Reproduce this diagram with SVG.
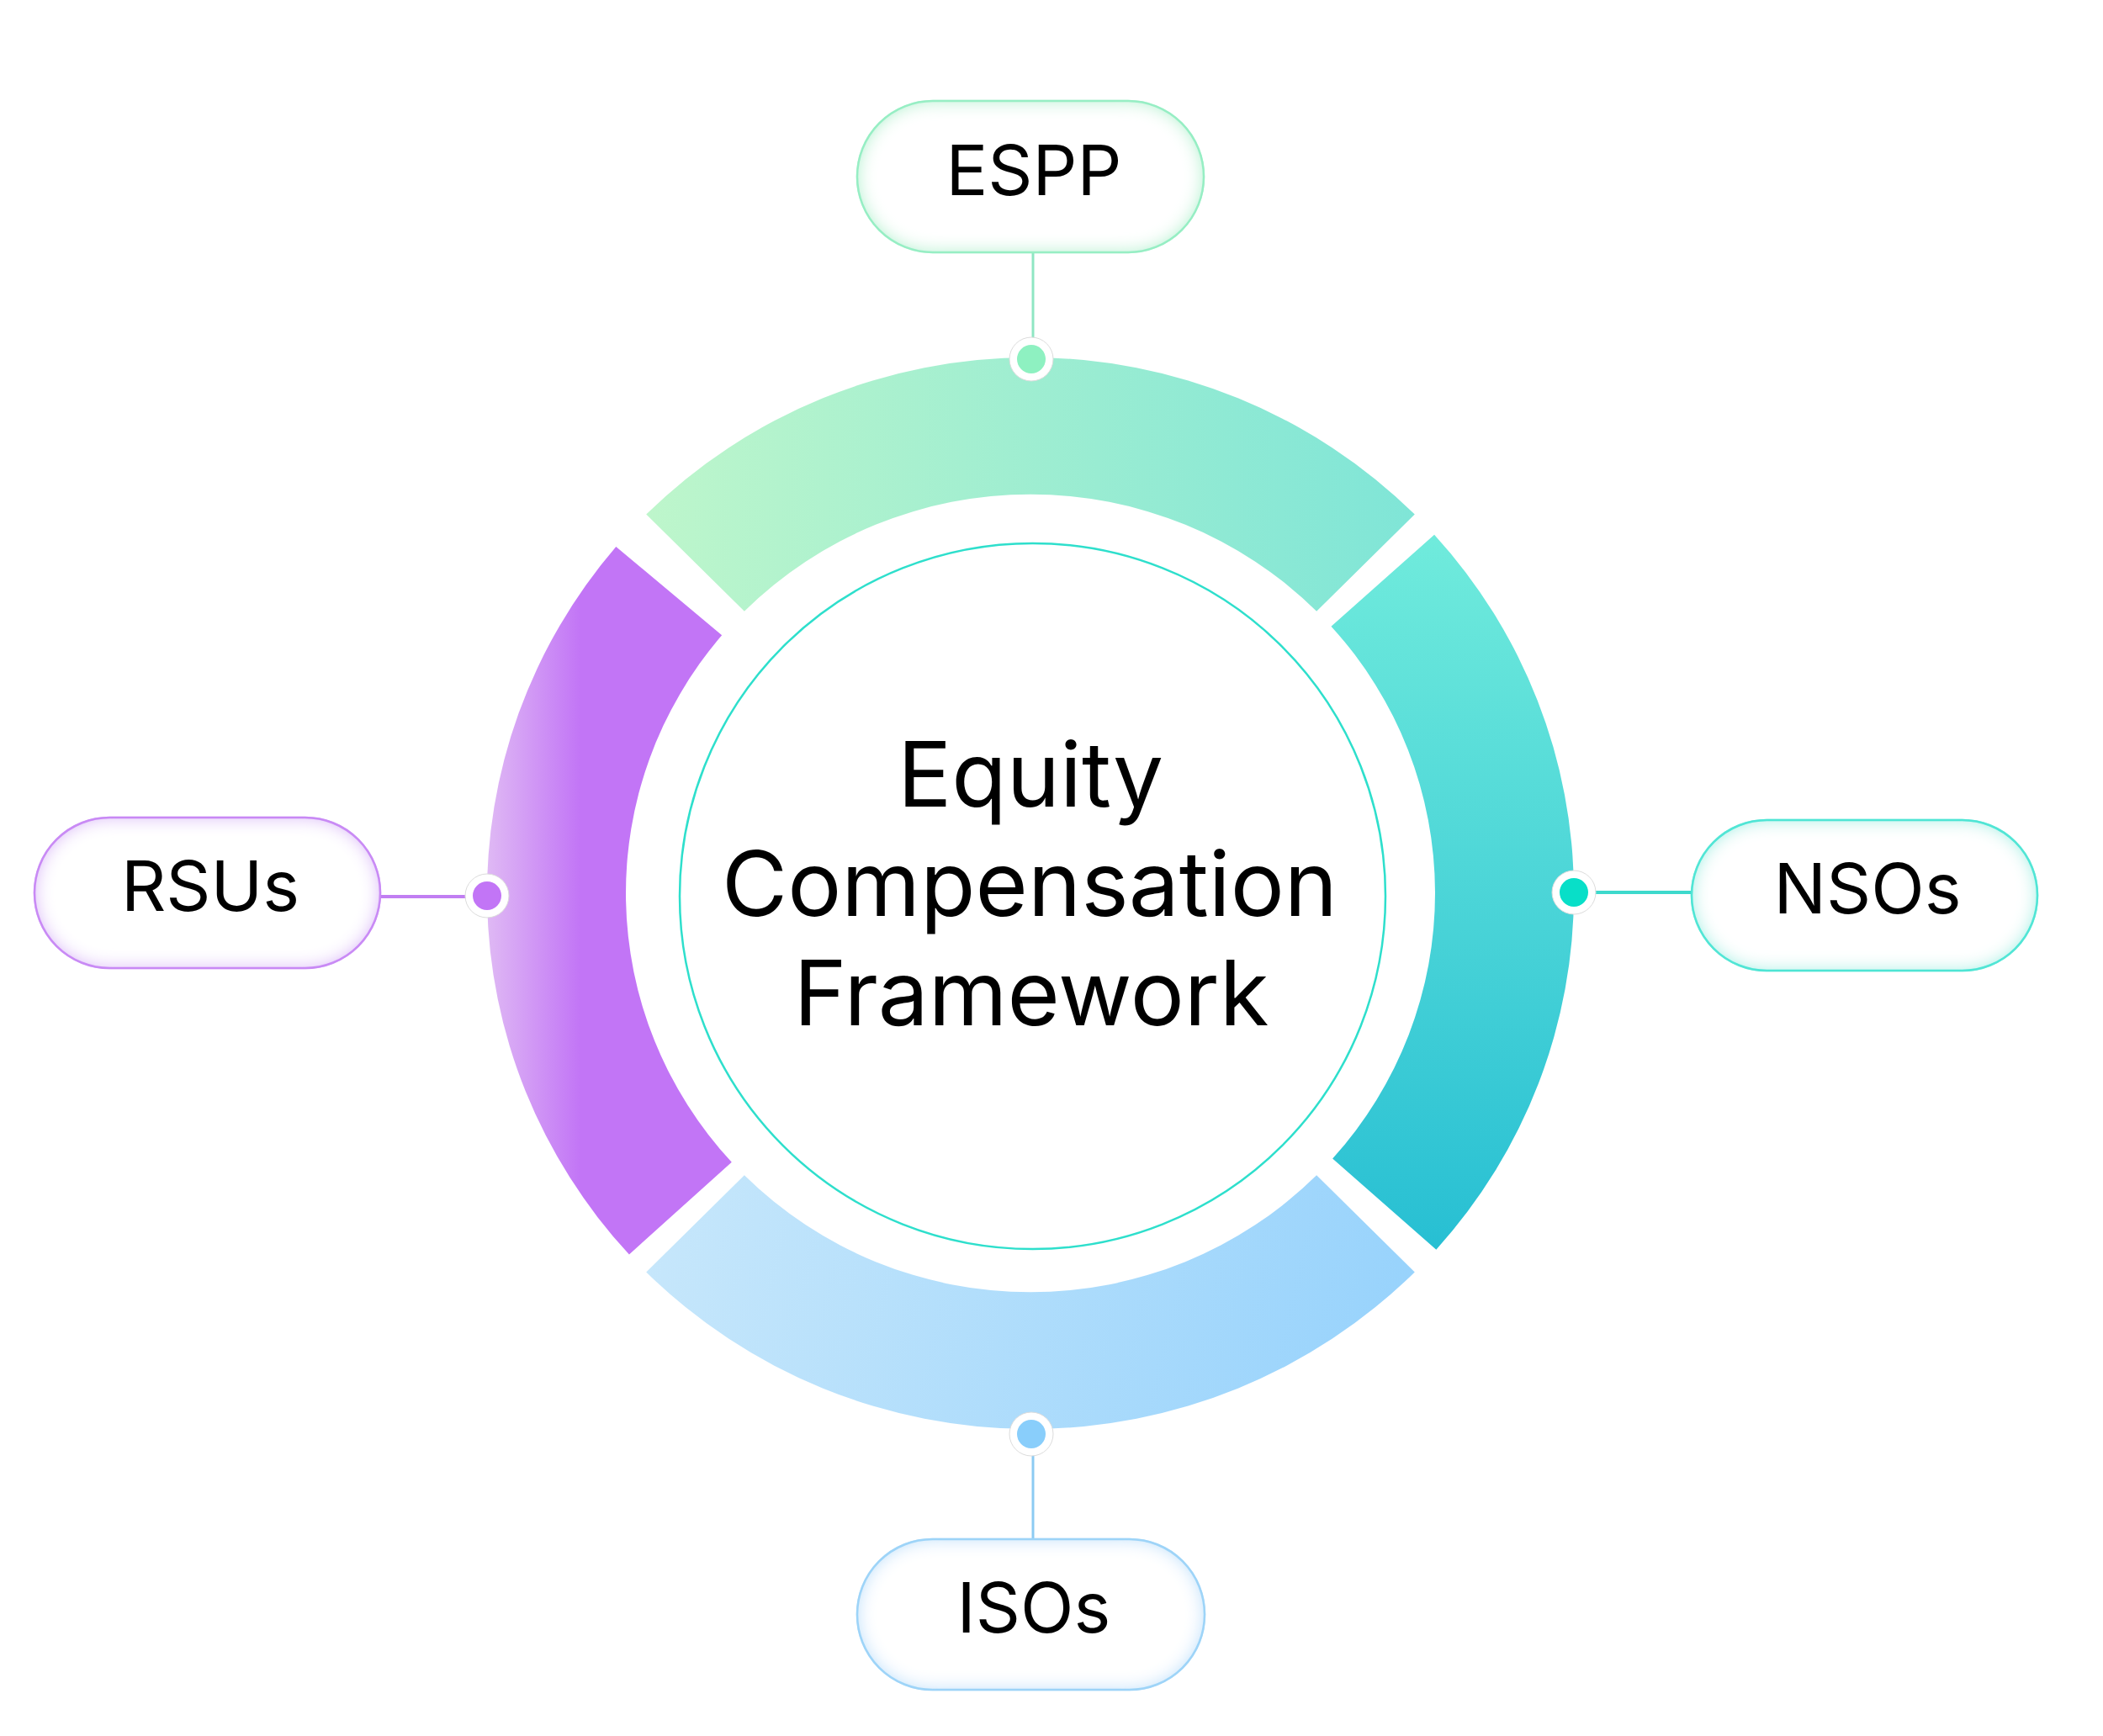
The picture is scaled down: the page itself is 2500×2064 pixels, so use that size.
<svg xmlns="http://www.w3.org/2000/svg" width="2500" height="2064" viewBox="0 0 2500 2064">
<style>
  .lbl{font-family:Inter,"Noto Sans","Liberation Sans",sans-serif;font-size:83px;fill:#000;text-anchor:middle}
  .ctr{font-family:Inter,"Noto Sans","Liberation Sans",sans-serif;font-size:107px;fill:#000;text-anchor:middle}
  .halo{fill:#fff;stroke:#dcdcdc;stroke-width:1}
  .pill{fill:#fff;stroke-width:2.5}
</style>
<defs>
  <linearGradient id="gTop" gradientUnits="userSpaceOnUse" x1="-460" y1="0" x2="460" y2="0">
    <stop offset="0" stop-color="#BEF6CB"/><stop offset="1" stop-color="#7FE5D7"/>
  </linearGradient>
  <linearGradient id="gRight" gradientUnits="userSpaceOnUse" x1="0" y1="-432" x2="0" y2="432">
    <stop offset="0" stop-color="#70EBDC"/><stop offset="1" stop-color="#27BFD3"/>
  </linearGradient>
  <linearGradient id="gBottom" gradientUnits="userSpaceOnUse" x1="-460" y1="380" x2="460" y2="600">
    <stop offset="0" stop-color="#C7E7FB"/><stop offset="1" stop-color="#96D2FC"/>
  </linearGradient>
  <linearGradient id="gLeft" gradientUnits="userSpaceOnUse" x1="-646" y1="0" x2="-535" y2="0">
    <stop offset="0" stop-color="#DFB9F4"/><stop offset="1" stop-color="#C275F6"/>
  </linearGradient>
  <filter id="fG" x="-5%" y="-10%" width="110%" height="120%">
    <feFlood flood-color="#8EEDBF" result="c"/>
    <feComposite in="c" in2="SourceAlpha" operator="out" result="o"/>
    <feGaussianBlur in="o" stdDeviation="11" result="b"/>
    <feComposite in="b" in2="SourceAlpha" operator="in" result="i"/>
    <feMerge><feMergeNode in="SourceGraphic"/><feMergeNode in="i"/></feMerge>
  </filter>
  <filter id="fP" x="-5%" y="-10%" width="110%" height="120%">
    <feFlood flood-color="#D09AF7" result="c"/>
    <feComposite in="c" in2="SourceAlpha" operator="out" result="o"/>
    <feGaussianBlur in="o" stdDeviation="11" result="b"/>
    <feComposite in="b" in2="SourceAlpha" operator="in" result="i"/>
    <feMerge><feMergeNode in="SourceGraphic"/><feMergeNode in="i"/></feMerge>
  </filter>
  <filter id="fT" x="-5%" y="-10%" width="110%" height="120%">
    <feFlood flood-color="#6CEBDD" result="c"/>
    <feComposite in="c" in2="SourceAlpha" operator="out" result="o"/>
    <feGaussianBlur in="o" stdDeviation="11" result="b"/>
    <feComposite in="b" in2="SourceAlpha" operator="in" result="i"/>
    <feMerge><feMergeNode in="SourceGraphic"/><feMergeNode in="i"/></feMerge>
  </filter>
  <filter id="fB" x="-5%" y="-10%" width="110%" height="120%">
    <feFlood flood-color="#A6D8FA" result="c"/>
    <feComposite in="c" in2="SourceAlpha" operator="out" result="o"/>
    <feGaussianBlur in="o" stdDeviation="11" result="b"/>
    <feComposite in="b" in2="SourceAlpha" operator="in" result="i"/>
    <feMerge><feMergeNode in="SourceGraphic"/><feMergeNode in="i"/></feMerge>
  </filter>
</defs>
<rect width="2500" height="2064" fill="#fff"/>

<g id="ring" transform="translate(1225,1062) scale(1,0.986)">
  <path id="seg-espp" fill="url(#gTop)" d="M -456.79,-456.79 A 646 646 0 0 1 456.79,-456.79 L 340.12,-340.12 A 481 481 0 0 0 -340.12,-340.12 Z"/>
  <path id="seg-nsos" fill="url(#gRight)" d="M 480.07,-432.26 A 646 646 0 0 1 482.33,429.74 L 359.13,319.98 A 481 481 0 0 0 357.45,-321.85 Z"/>
  <path id="seg-isos" fill="url(#gBottom)" d="M 456.79,456.79 A 646 646 0 0 1 -456.79,456.79 L -340.12,340.12 A 481 481 0 0 0 340.12,340.12 Z"/>
  <path id="seg-rsus" fill="url(#gLeft)" d="M -477.05,435.60 A 646 646 0 0 1 -492.68,-417.83 L -366.84,-311.11 A 481 481 0 0 0 -355.20,324.34 Z"/>
</g>

<g id="center">
  <circle cx="1227.5" cy="1065.5" r="419.5" fill="#fff" stroke="#2EDFCC" stroke-width="2.5"/>
  <text class="ctr" x="1225" y="959">Equity</text>
  <text class="ctr" x="1224" y="1089">Compensation</text>
  <text class="ctr" x="1226" y="1219">Framework</text>
</g>

<g id="connectors" stroke-linecap="butt">
  <line x1="1228" y1="300" x2="1228" y2="427" stroke="#8FE6C3" stroke-width="3"/>
  <line x1="452" y1="1066" x2="579" y2="1066" stroke="#C17EF2" stroke-width="4"/>
  <line x1="1871" y1="1061" x2="2011" y2="1061" stroke="#3DD9CC" stroke-width="4"/>
  <line x1="1228" y1="1705" x2="1228" y2="1830" stroke="#8CCBF2" stroke-width="3"/>
</g>

<g id="dots">
  <g id="dot-espp"><circle class="halo" cx="1226" cy="427" r="26"/><circle cx="1226" cy="427" r="17" fill="#8EF1C1"/></g>
  <g id="dot-rsus"><circle class="halo" cx="579" cy="1065" r="26"/><circle cx="579" cy="1065" r="17" fill="#C275F6"/></g>
  <g id="dot-nsos"><circle class="halo" cx="1871" cy="1061" r="26"/><circle cx="1871" cy="1061" r="17" fill="#08DFC8"/></g>
  <g id="dot-isos"><circle class="halo" cx="1226" cy="1705" r="26"/><circle cx="1226" cy="1705" r="17" fill="#89CEFB"/></g>
</g>

<g id="node-espp">
  <rect class="pill" x="1019" y="120" width="412" height="180" rx="90" stroke="#9EEFC8" filter="url(#fG)"/>
  <text class="lbl" x="1229" y="232">ESPP</text>
</g>
<g id="node-rsus">
  <rect class="pill" x="41" y="972" width="411" height="179" rx="89.5" stroke="#C27CF3" filter="url(#fP)"/>
  <text class="lbl" x="250" y="1083">RSUs</text>
</g>
<g id="node-nsos">
  <rect class="pill" x="2011" y="975" width="411" height="179" rx="89.5" stroke="#2FE0CE" filter="url(#fT)"/>
  <text class="lbl" x="2220" y="1086">NSOs</text>
</g>
<g id="node-isos">
  <rect class="pill" x="1019" y="1830" width="413" height="179" rx="89.5" stroke="#96D0F6" filter="url(#fB)"/>
  <text class="lbl" x="1229" y="1941">ISOs</text>
</g>
</svg>
